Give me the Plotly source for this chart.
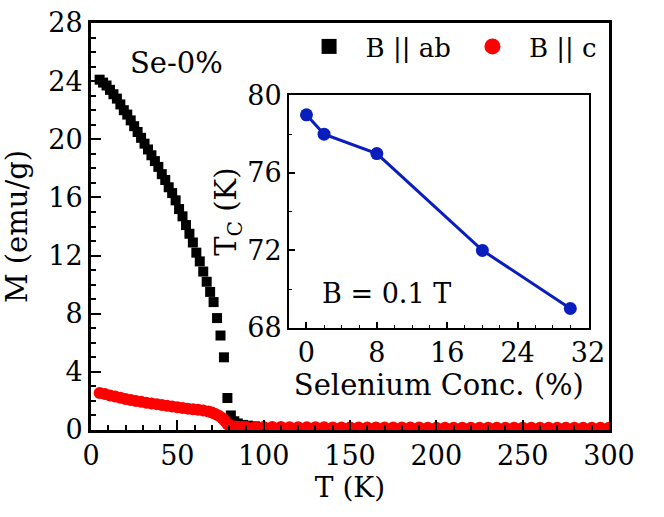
import plotly.graph_objects as go

# magnetisation, B parallel to ab (black squares)
t_ab = [5, 7, 9, 11, 13, 15, 17, 19, 21, 23, 25, 27, 29, 31, 33, 35, 37, 39,
        41, 43, 45, 47, 49, 51, 53, 55, 57, 59, 61, 63, 65, 67, 69, 71,
        73, 75, 77, 79, 81, 83, 85, 88, 91, 95]
m_ab = [24.1, 23.9, 23.7, 23.4, 23.1, 22.8, 22.4, 22.0, 21.7, 21.3, 20.9, 20.5,
        20.1, 19.7, 19.3, 18.9, 18.5, 18.1, 17.6, 17.2, 16.7, 16.3, 15.8, 15.2,
        14.7, 14.1, 13.5, 12.9, 12.2, 11.6, 10.9, 10.2, 9.5, 8.8,
        7.7, 6.5, 5.0, 2.2, 1.0, 0.6, 0.45, 0.35, 0.3, 0.25]

# magnetisation, B parallel to c (red circles)
t_c = [5, 8, 11, 14, 17, 20, 23, 26, 29, 32, 35, 38, 41, 44, 47, 50, 53, 56,
       59, 62, 65, 68, 70, 72, 74, 76, 77, 78, 79, 80, 82, 84, 86, 88, 90,
       95, 100, 105, 110, 115, 120, 125, 130, 135, 140, 145, 150, 155, 160,
       165, 170, 175, 180, 185, 190, 195, 200, 205, 210, 215, 220, 225, 230,
       235, 240, 245, 250, 255, 260, 265, 270, 275, 280, 285, 290, 295, 300]
m_c = [2.55, 2.47, 2.38, 2.30, 2.22, 2.14, 2.07, 2.00, 1.94, 1.88, 1.83, 1.78,
       1.72, 1.67, 1.62, 1.57, 1.52, 1.47, 1.43, 1.39, 1.34, 1.27, 1.20, 1.10,
       0.98, 0.82, 0.70, 0.56, 0.42, 0.32, 0.25, 0.22, 0.21, 0.21, 0.20,
       0.20, 0.20, 0.20, 0.20, 0.19, 0.19, 0.19, 0.19, 0.19, 0.18, 0.18, 0.18,
       0.18, 0.18, 0.17, 0.17, 0.17, 0.17, 0.17, 0.17, 0.16, 0.16, 0.16, 0.16,
       0.16, 0.16, 0.16, 0.15, 0.15, 0.15, 0.15, 0.15, 0.15, 0.15, 0.15, 0.15,
       0.15, 0.15, 0.15, 0.15, 0.15, 0.15]

# inset: Tc vs selenium concentration
se_conc = [0, 2, 8, 20, 30]
tc_vals = [79, 78, 77, 72, 69]

FONT = "DejaVu Serif"
nb = "\u00a0"
tickf = dict(family=FONT, size=27, color="black")

fig = go.Figure()

fig.add_trace(go.Scatter(x=t_ab, y=m_ab, mode="markers", showlegend=False,
                         marker=dict(symbol="square", size=10, color="black")))
fig.add_trace(go.Scatter(x=t_c, y=m_c, mode="markers", showlegend=False,
                         marker=dict(symbol="circle", size=12, color="#ff0000")))

# legend entries
fig.add_trace(go.Scatter(x=[None], y=[None], mode="markers",
                         name=nb * 2 + "B || ab" + nb * 2,
                         marker=dict(symbol="square", size=15, color="black")))
fig.add_trace(go.Scatter(x=[None], y=[None], mode="markers",
                         name=nb * 2 + "B || c",
                         marker=dict(symbol="circle", size=16, color="#ff0000")))

# inset
fig.add_trace(go.Scatter(x=se_conc, y=tc_vals, mode="lines+markers", showlegend=False,
                         xaxis="x2", yaxis="y2",
                         line=dict(color="#0a1ebe", width=3),
                         marker=dict(size=13, color="#0a1ebe")))

fig.update_layout(
    width=664, height=517,
    margin=dict(l=91, r=55, t=23, b=87),
    plot_bgcolor="white", paper_bgcolor="white",
    font=dict(family=FONT, size=24, color="black"),
    xaxis=dict(range=[0, 300], dtick=50, showgrid=False, zeroline=False,
               showline=True, linewidth=3, linecolor="black", mirror=True,
               ticks="inside", ticklen=10, tickwidth=2, tickcolor="black", tickfont=tickf,
               minor=dict(dtick=10, ticks="inside", ticklen=5, tickwidth=2, tickcolor="black"),
               title=dict(text="T (K)", standoff=6, font=dict(family=FONT, size=28)),
               automargin=False),
    yaxis=dict(range=[0, 28], dtick=4, showgrid=False, zeroline=False,
               showline=True, linewidth=3, linecolor="black", mirror=True,
               ticks="inside", ticklen=10, tickwidth=2, tickcolor="black", tickfont=tickf,
               minor=dict(dtick=1, ticks="inside", ticklen=5, tickwidth=2, tickcolor="black"),
               title=dict(text="M (emu/g)", standoff=16), automargin=False),
    xaxis2=dict(domain=[0.382, 0.961], anchor="y2", range=[-2, 32.1], dtick=8,
                showgrid=False, zeroline=False, showline=True, linewidth=1.5,
                linecolor="black", mirror=True, ticks="inside", ticklen=6,
                tickwidth=1.5, tickcolor="black", tickfont=tickf,
                minor=dict(dtick=2, ticks="inside", ticklen=3, tickwidth=1, tickcolor="black"),
                title=dict(text="Selenium Conc. (%)", standoff=4), automargin=False),
    yaxis2=dict(domain=[0.251, 0.822], anchor="x2", range=[68, 80], dtick=4,
                showgrid=False, zeroline=False, showline=True, linewidth=1.5,
                linecolor="black", mirror=True, ticks="inside", ticklen=6,
                tickwidth=1.5, tickcolor="black", tickfont=tickf,
                minor=dict(dtick=2, ticks="inside", ticklen=3, tickwidth=1, tickcolor="black"),
                title=dict(text="T<sub>C</sub> (K)", standoff=0), automargin=False),
    legend=dict(orientation="h", x=0.421, y=1.0, xanchor="left", yanchor="top",
                bgcolor="rgba(0,0,0,0)", font=dict(family=FONT, size=26), itemsizing="trace"),
    annotations=[
        dict(text="Se-0%", x=0.166, y=0.901, xref="paper", yref="paper",
             xanchor="center", yanchor="middle", showarrow=False,
             font=dict(family=FONT, size=29)),
        dict(text="B = 0.1 T", x=0.571, y=0.335, xref="paper", yref="paper",
             xanchor="center", yanchor="middle", showarrow=False,
             font=dict(family=FONT, size=27)),
    ],
)

fig.write_html("out.html", config={"displayModeBar": False},
               post_script="document.body.style.margin = '0';")
